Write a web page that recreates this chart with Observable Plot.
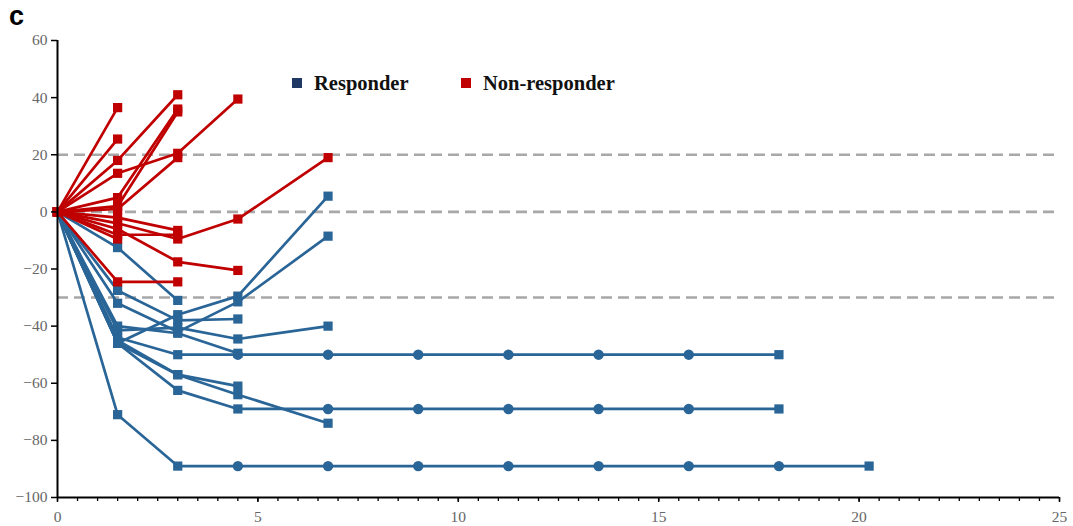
<!DOCTYPE html>
<html>
<head>
<meta charset="utf-8">
<script src="https://cdn.jsdelivr.net/npm/d3@7"></script>
<script src="https://cdn.jsdelivr.net/npm/@observablehq/plot@0.6"></script>
<style>
  body { margin: 0; background: #fff; }
  #wrap { position: relative; width: 1073px; height: 526px; }
  #wrap svg text { font-family: "Liberation Serif", "DejaVu Serif", serif !important; font-size: 15.5px !important; }
  #panel { position: absolute; left: 9px; top: 1px; font: 900 27px "Liberation Sans", Arial, sans-serif; color: #000; }
  .key { position: absolute; top: 72px; font: bold 20.5px "Liberation Serif", "Times New Roman", serif; color: #111; white-space: nowrap; }
  .key i { display: inline-block; width: 10px; height: 10px; margin-right: 12px; vertical-align: 2px; }
</style>
</head>
<body>
<div id="wrap">
  <div id="panel">c</div>
  <div class="key" style="left:292px"><i style="background:#1f3864"></i>Responder</div>
  <div class="key" style="left:461px"><i style="background:#c00000"></i>Non-responder</div>
</div>
<script>
// Assessment times (x) shared by every patient track
const weeks = [0, 1.5, 3, 4.5, 6.75, 9, 11.25, 13.5, 15.75, 18, 20.25];

// Percent change from baseline, one array per patient, aligned with weeks
const responders = [
  [0, -12.5, -31],
  [0, -71, -89, -89, -89, -89, -89, -89, -89, -89, -89],
  [0, -44, -50, -50, -50, -50, -50, -50, -50, -50],
  [0, -46, -62.5, -69, -69, -69, -69, -69, -69, -69],
  [0, -46, -57, -64, -74],
  [0, -45, -57, -61],
  [0, -46, -36, -29.5, 5.5],
  [0, -32, -42, -31.5, -8.5],
  [0, -27.5, -38, -37.5],
  [0, -41.5, -40.5, -44.5, -40],
  [0, -40, -42.5, -49.5]
];

const nonResponders = [
  [0, 36.5],
  [0, 25.5],
  [0, 18, 41],
  [0, 13.5, 20.5, 39.5],
  [0, 5, 36],
  [0, 2, 35],
  [0, 1, 19],
  [0, -2, -6.5],
  [0, -4, -9.5, -2.5, 19],
  [0, -6, -17.5, -20.5],
  [0, -24.5, -24.5],
  [0, -8, -8],
  [0, -9.5]
];

// Response thresholds (+20% progression, 0, -30% partial response)
const thresholds = [20, 0, -30];

const xMajor = [0, 5, 10, 15, 20, 25];
const yTicks = [-100, -80, -60, -40, -20, 0, 20, 40, 60];

const BLUE = "#2a6597";
const RED = "#c00000";

function toRows(series, group) {
  const rows = [];
  series.forEach((vals, i) => {
    vals.forEach((v, j) => {
      // plateau points (same as previous, not last) are drawn as circles
      const plateau = j > 0 && j < vals.length - 1 && v === vals[j - 1];
      rows.push({ id: group + i, group, x: weeks[j], y: v, shape: plateau ? "circle" : "square" });
    });
  });
  return rows;
}

const blueRows = toRows(responders, "R");
const redRows = toRows(nonResponders, "N");

const chart = Plot.plot({
  width: 1073,
  height: 526,
  marginLeft: 57,
  marginRight: 14,
  marginTop: 40,
  marginBottom: 29,
  x: { domain: [0, 25], label: null },
  y: { domain: [-100, 60], label: null },
  symbol: { domain: ["square", "circle"], range: ["square", "circle"] },
  style: { fontSize: "15.5px", color: "#666", background: "#fff" },
  marks: [
    Plot.ruleY(thresholds, { stroke: "#a8a8a8", strokeWidth: 2.6, strokeDasharray: "11,6" }),
    Plot.line(blueRows, { x: "x", y: "y", z: "id", stroke: BLUE, strokeWidth: 2.7 }),
    Plot.dot(blueRows, { x: "x", y: "y", symbol: "shape", fill: BLUE, r: 5.2 }),
    Plot.line(redRows, { x: "x", y: "y", z: "id", stroke: RED, strokeWidth: 2.7 }),
    Plot.dot(redRows, { x: "x", y: "y", symbol: "shape", fill: RED, r: 5.2 }),
    // minor ticks every 0.5
    Plot.axisX({ ticks: d3.range(0, 25.01, 0.5), tickFormat: () => "", label: null, tickSize: 4, stroke: "#000", strokeWidth: 1.3 }),
    Plot.axisX({ ticks: xMajor, label: null, tickSize: 5, tickPadding: 8, stroke: "#000", strokeWidth: 1.5, fill: "#666" }),
    Plot.axisY({ ticks: yTicks, label: null, tickSize: 6, tickPadding: 4, stroke: "#000", strokeWidth: 1.5, fill: "#666" }),
    Plot.ruleX([0], { stroke: "#000", strokeWidth: 2 }),
    Plot.ruleY([-100], { stroke: "#000", strokeWidth: 2 })
  ]
});

document.getElementById("wrap").prepend(chart);
</script>
</body>
</html>
